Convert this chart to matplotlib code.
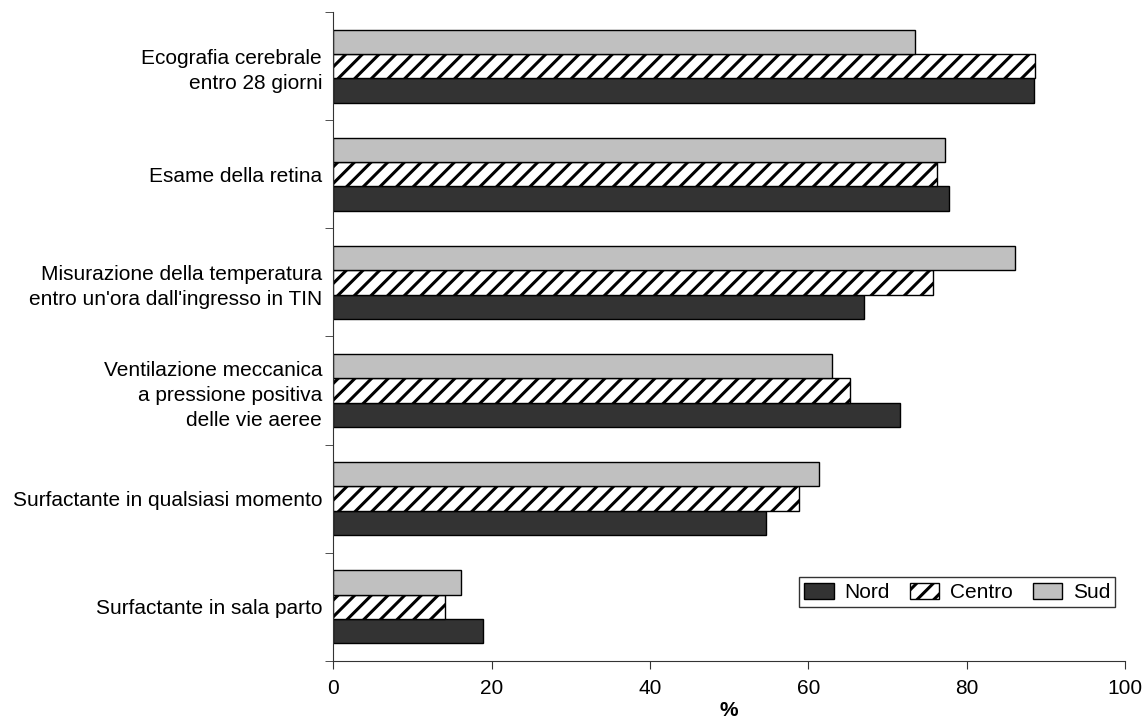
import numpy as np
import matplotlib.pyplot as plt
from matplotlib.patches import Patch

plt.rcParams['font.family'] = ['Liberation Sans', 'DejaVu Sans']
plt.rcParams['hatch.linewidth'] = 2.2

categorie = [
    "Ecografia cerebrale\nentro 28 giorni",
    "Esame della retina",
    "Misurazione della temperatura\nentro un'ora dall'ingresso in TIN",
    "Ventilazione meccanica\na pressione positiva\ndelle vie aeree",
    "Surfactante in qualsiasi momento",
    "Surfactante in sala parto",
]
nord = [88.5, 77.8, 67.0, 71.6, 54.6, 18.9]
centro = [88.7, 76.3, 75.8, 65.3, 58.8, 14.1]
sud = [73.5, 77.3, 86.1, 63.0, 61.3, 16.2]

n = len(categorie)
y = np.arange(n)[::-1]
h = 0.225

fig = plt.figure(figsize=(11.45, 7.27), dpi=100)
ax = fig.add_axes([0.291, 0.091, 0.6915, 0.8925])

ax.barh(y - h, nord, height=h, color="#333333", edgecolor="black", linewidth=1)
ax.barh(y, centro, height=h, color="white", edgecolor="black", linewidth=1, hatch="//")
ax.barh(y + h, sud, height=h, color="#c0c0c0", edgecolor="black", linewidth=1)

ax.set_xlim(0, 100)
ax.set_ylim(-0.5, n - 0.5)
ax.set_xticks(range(0, 101, 20))
ax.set_yticks(y)
ax.set_yticklabels(categorie, fontsize=15, linespacing=1.38)
ax.set_yticks(np.arange(-0.5, n), minor=True)
ax.tick_params(axis="y", which="major", length=0, pad=8)
ax.tick_params(axis="y", which="minor", length=6, color="#333333")
ax.tick_params(axis="x", length=6, labelsize=15, pad=7, color="#333333")

for s in ["top", "right"]:
    ax.spines[s].set_visible(False)
for s in ["left", "bottom"]:
    ax.spines[s].set_color("#333333")

ax.set_xlabel("%", fontsize=15, fontweight="bold", labelpad=2)

handles = [
    Patch(facecolor="#333333", edgecolor="black", label="Nord"),
    Patch(facecolor="white", edgecolor="black", hatch="//", label="Centro"),
    Patch(facecolor="#c0c0c0", edgecolor="black", label="Sud"),
]
leg = ax.legend(handles=handles, ncol=3, loc="lower right", bbox_to_anchor=(0.988, 0.083),
                fontsize=15, frameon=True, fancybox=False, edgecolor="black",
                handlelength=1.4, handleheight=0.8, columnspacing=1.0, handletextpad=0.5,
                borderpad=0.25, borderaxespad=0)
leg.get_frame().set_linewidth(1)

fig.savefig("out.png", dpi=100)
